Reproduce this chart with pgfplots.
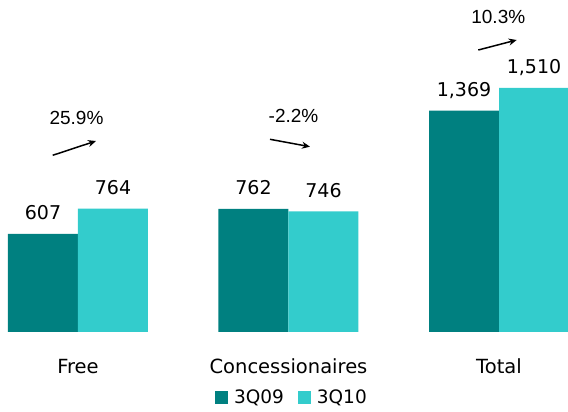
\documentclass[border=0pt]{standalone}
\usepackage{pgfplots}
\pgfplotsset{compat=1.18}
\usepackage{fontspec}
\setmainfont{DejaVu Sans}
\newfontfamily\arial{Liberation Sans}
\usetikzlibrary{arrows.meta}
\definecolor{dteal}{HTML}{008080}
\definecolor{lteal}{HTML}{33CCCC}
\begin{document}
\begin{tikzpicture}[x=1pt,y=1pt]
\path[use as bounding box] (-8,-80) rectangle (560,332);
\begin{axis}[
  at={(0,0)}, anchor=south west,
  scale only axis, width=560pt, height=332pt,
  xmin=-0.3325, xmax=2.3278, ymin=0, ymax=2054,
  ybar=0pt, bar width=70pt,
  axis line style={draw=none}, tick style={draw=none},
  ytick=\empty, xtick={0,1,2},
  xticklabels={Free,Concessionaires,Total},
  xticklabel style={anchor=base, yshift=-37pt, font=\fontsize{19.5}{22}\selectfont},
  /pgf/number format/assume math mode=true,
  /pgf/number format/1000 sep={,},
  nodes near coords,
  every node near coord/.append style={anchor=base, yshift=14pt, font=\fontsize{19}{22}\selectfont, text=black},
  legend columns=2,
  legend style={at={(axis description cs:0.507,-0.196)}, anchor=center, draw=none, fill=none,
    font=\fontsize{18.5}{22}\selectfont, inner sep=0pt,
    /tikz/every even column/.append style={column sep=12pt}},
  legend image code/.code={\draw[#1,draw=none] (0pt,-6.5pt) rectangle (13pt,6.5pt); \path (17pt,0pt);},
  clip=false,
]
\addplot[fill=dteal, draw=none] coordinates {(0,607) (1,762) (2,1369)};
\addplot[fill=lteal, draw=none] coordinates {(0,764) (1,746) (2,1510)};
\legend{3Q09,3Q10}
\end{axis}
\draw[line width=1.5pt, -{Stealth[length=8pt,width=7pt]}] (44.7,176.7) -- (88,191);
\draw[line width=1.5pt, -{Stealth[length=8pt,width=7pt]}] (262,192.7) -- (302,185.3);
\draw[line width=1.5pt, -{Stealth[length=8pt,width=7pt]}] (470.3,282) -- (508.7,292);
\node[anchor=base, font=\arial\fontsize{19}{22}\selectfont] at (68.5,207.7) {25.9\%};
\node[anchor=base, font=\arial\fontsize{19}{22}\selectfont] at (285.5,209.7) {-2.2\%};
\node[anchor=base, font=\arial\fontsize{19}{22}\selectfont] at (490.3,308.7) {10.3\%};
\end{tikzpicture}
\end{document}
